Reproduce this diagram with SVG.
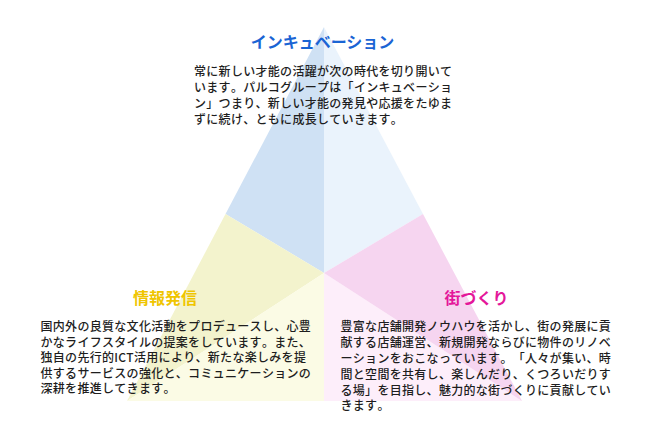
<svg xmlns="http://www.w3.org/2000/svg" width="650" height="433" viewBox="0 0 650 433">
<style>
.body{font-family:"Noto Sans CJK JP","Noto Sans",sans-serif;font-size:12px;fill:#1e1e1e;letter-spacing:0.3px;font-kerning:none;font-weight:500;text-spacing-trim:space-all}
.ttl{font-family:"Noto Sans CJK JP","Noto Sans",sans-serif;font-size:16px;font-weight:bold;text-anchor:middle}
</style>
<rect width="650" height="433" fill="#ffffff"/>
<g id="triangle">
<polygon points="324,27 225.5,214 324,273" fill="#cfe1f4"/>
<polygon points="324,27 324,273 423,214" fill="#eaf3fc"/>
<polygon points="225.5,214 127,401 324,273" fill="#f3f3cd"/>
<polygon points="127,401 324,401 324,273" fill="#fbfbe5"/>
<polygon points="324,273 324,401 522,401" fill="#fdeefa"/>
<polygon points="324,273 522,401 423,214" fill="#f6d5f0"/>
</g>
<g id="incubation">
<text class="ttl" x="322.5" y="48" fill="#1a64d4">インキュベーション</text>
<text class="body" x="194" y="76">常に新しい才能の活躍が次の時代を切り開いて</text>
<text class="body" x="194" y="92">います。パルコグループは「インキュベーショ</text>
<text class="body" x="194" y="108">ン」つまり、新しい才能の発見や応援をたゆま</text>
<text class="body" x="194" y="123.5">ずに続け、ともに成長していきます。</text>
</g>
<g id="information">
<text class="ttl" x="165" y="304" fill="#efc500">情報発信</text>
<text class="body" x="40.5" y="331">国内外の良質な文化活動をプロデュースし、心豊</text>
<text class="body" x="40.5" y="346.6">かなライフスタイルの提案をしています。また、</text>
<text class="body" x="40.5" y="362.2">独自の先行的ICT活用により、新たな楽しみを提</text>
<text class="body" x="40.5" y="377.8">供するサービスの強化と、コミュニケーションの</text>
<text class="body" x="40.5" y="393.4">深耕を推進してきます。</text>
</g>
<g id="town">
<text class="ttl" x="476.5" y="304" fill="#e4179a">街づくり</text>
<text class="body" x="340.5" y="331">豊富な店舗開発ノウハウを活かし、街の発展に貢</text>
<text class="body" x="340.5" y="347">献する店舗運営、新規開発ならびに物件のリノベ</text>
<text class="body" x="340.5" y="363">ーションをおこなっています。「人々が集い、時</text>
<text class="body" x="340.5" y="378.8">間と空間を共有し、楽しんだり、くつろいだりす</text>
<text class="body" x="340.5" y="394.6">る場」を目指し、魅力的な街づくりに貢献してい</text>
<text class="body" x="340.5" y="410.4">きます。</text>
</g>
</svg>
